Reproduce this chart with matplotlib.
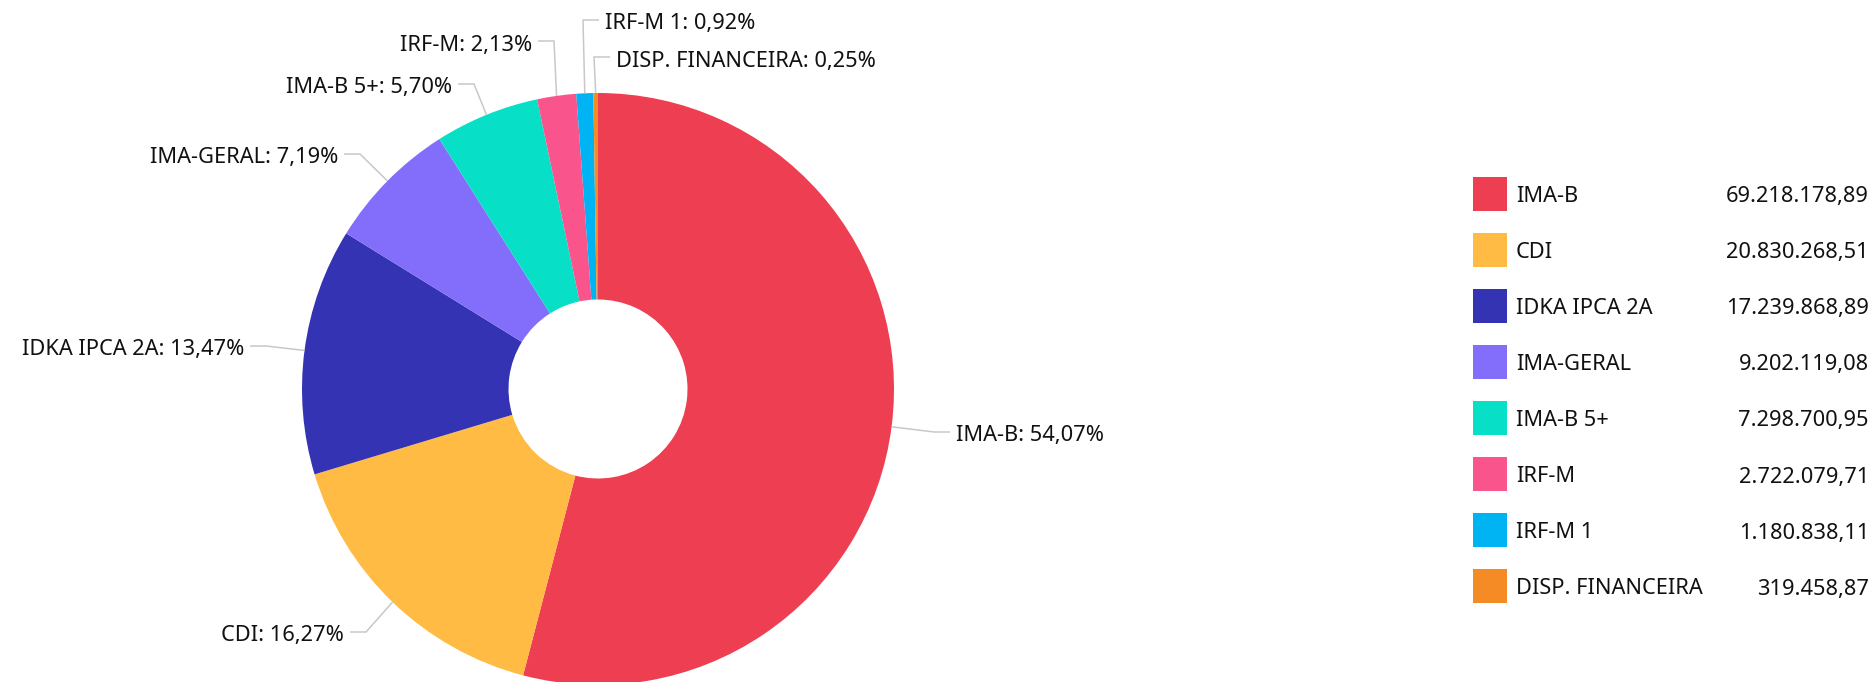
import numpy as np
import matplotlib
matplotlib.use("Agg")
import matplotlib.pyplot as plt
from matplotlib.patches import Rectangle

# ---- data ----
categories = ["IMA-B", "CDI", "IDKA IPCA 2A", "IMA-GERAL", "IMA-B 5+",
              "IRF-M", "IRF-M 1", "DISP. FINANCEIRA"]
values = [69218178.89, 20830268.51, 17239868.89, 9202119.08, 7298700.95,
          2722079.71, 1180838.11, 319458.87]
colors = ["#EE3E52", "#FFBB44", "#3333B4", "#826EFA", "#07E0C6",
          "#F9548C", "#00B4F4", "#F58B24"]

# ---- layout (pixel space, y measured from top) ----
W, H = 1874, 682
CX, CY = 598, 389
R, R_IN = 296, 89.5
# (line y, line end x near text, side) for each label
label_layout = [
    (432, 950, "right"),
    (632, 350, "left"),
    (346, 250, "left"),
    (154, 344, "left"),
    (84, 458, "left"),
    (41, 538, "left"),
    (20, 599, "right"),
    (57, 610, "right"),
]
FONT = ["Noto Sans", "DejaVu Sans"]
FS = 15.7
LINE_C = "#C8C8C8"


def fmt_br(v, dec=2):
    s = f"{v:,.{dec}f}"
    return s.replace(",", "X").replace(".", ",").replace("X", ".")


fig = plt.figure(figsize=(W / 100, H / 100), dpi=100)
ax = fig.add_axes([0, 0, 1, 1])
ax.set_xlim(0, W)
ax.set_ylim(0, H)
ax.axis("off")

wedges, _ = ax.pie(values, colors=colors, startangle=90, counterclock=False,
                   center=(CX, H - CY), radius=R,
                   wedgeprops=dict(width=R - R_IN, linewidth=0))
ax.set_xlim(0, W)
ax.set_ylim(0, H)
ax.set_aspect("equal")

total = sum(values)
for w, name, val, (ly, lx, side) in zip(wedges, categories, values, label_layout):
    mid = np.deg2rad((w.theta1 + w.theta2) / 2)
    ax_x = CX + R * np.cos(mid)
    ax_y = (H - CY) + R * np.sin(mid)
    Ly = H - ly
    if side == "right":
        elbow_x = lx - 16
        tx, ha = lx + 6, "left"
    else:
        elbow_x = lx + 16
        tx, ha = lx - 6, "right"
    ax.plot([ax_x, elbow_x, lx], [ax_y, Ly, Ly], color=LINE_C, lw=1.1,
            solid_capstyle="butt", zorder=1)
    pct = fmt_br(val / total * 100)
    ax.text(tx, Ly - 4, f"{name}: {pct}%", ha=ha, va="center",
            fontsize=FS, family=FONT, color="#111111")

# ---- legend ----
LX0, LSQ, LTX, LVX = 1473, 34, 1516, 1869
LY0, LSTEP = 194, 56
for i, (name, val, c) in enumerate(zip(categories, values, colors)):
    yc = H - (LY0 + i * LSTEP)
    ax.add_patch(Rectangle((LX0, yc - LSQ / 2), LSQ, LSQ, facecolor=c,
                           edgecolor="none"))
    ax.text(LTX, yc - 3, name, ha="left", va="center", fontsize=FS,
            family=FONT, color="#111111")
    ax.text(LVX, yc - 3, fmt_br(val), ha="right", va="center", fontsize=FS,
            family=FONT, color="#111111")

fig.savefig("out.png", dpi=100, facecolor="white")
